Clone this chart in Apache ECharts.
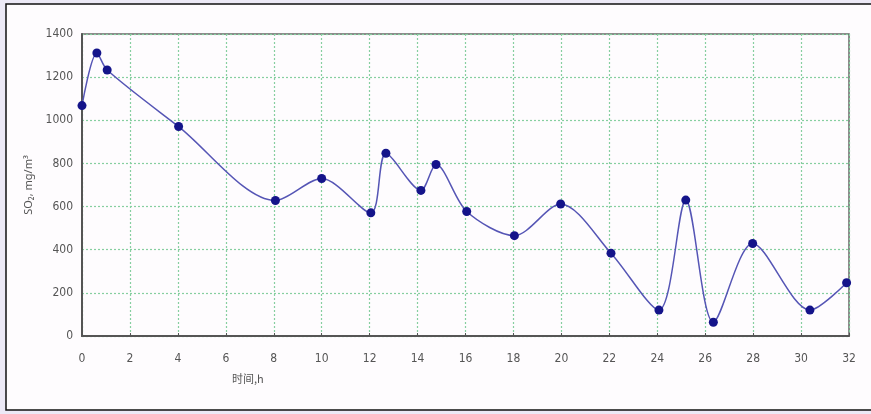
<!DOCTYPE html>
<html>
<head>
<meta charset="utf-8">
<script src="https://cdn.jsdelivr.net/npm/echarts@6/dist/echarts.min.js"></script>
<style>
html,body{margin:0;padding:0;background:#ece9f6;}
#c{width:871px;height:414px;}
</style>
</head>
<body>
<div id="c"></div>
<script>
const timeH = [0, 0.62, 1.05, 4.03, 8.07, 10.0, 12.05, 12.68, 14.14, 14.77, 16.05, 18.04, 19.97, 22.07, 24.07, 25.19, 26.34, 27.98, 30.37, 31.9];
const so2 = [1068, 1312, 1233, 971, 628, 730, 571, 847, 675, 795, 577, 465, 612, 384, 120, 630, 64, 429, 120, 247];
const xTicks = [0, 2, 4, 6, 8, 10, 12, 14, 16, 18, 20, 22, 24, 26, 28, 30, 32];
const yTicks = [0, 200, 400, 600, 800, 1000, 1200, 1400];

const fontFam = "'Liberation Sans Narrow','DejaVu Sans Condensed','Liberation Sans',sans-serif";
const chart = echarts.init(document.getElementById('c'));
const pts = timeH.map((t, i) => [t, so2[i]]);
chart.setOption({
  backgroundColor: '#ece9f6',
  animation: false,
  graphic: [
    {type: 'rect', z: -10, shape: {x: 6, y: 4, width: 880, height: 406},
     style: {fill: '#fefcfe', stroke: '#111', lineWidth: 1.5}},
    {type: 'text', left: 232, top: 373,
     style: {text: '时间,h', fill: '#555', font: '11px ' + "'Noto Sans CJK SC', sans-serif"}}
  ],
  grid: {left: 82, right: 22, top: 34, bottom: 78, show: true, borderColor: '#666', borderWidth: 1.5, backgroundColor: 'transparent'},
  xAxis: {
    type: 'value', min: xTicks[0], max: xTicks[xTicks.length - 1], interval: 2,
    axisLine: {lineStyle: {color: '#555', width: 2}},
    axisTick: {show: true, inside: true, length: 3, lineStyle: {color: '#555'}},
    axisLabel: {color: '#555', fontSize: 12, fontFamily: fontFam, margin: 17, formatter: v => String(v)},
    splitLine: {show: true, lineStyle: {color: '#86cfa0', type: [2, 2], width: 1.2}}
  },
  yAxis: {
    type: 'value', min: yTicks[0], max: yTicks[yTicks.length - 1], interval: 200,
    name: 'SO₂, mg/m³', nameLocation: 'middle', nameGap: 46,
    nameTextStyle: {color: '#555', fontSize: 11, fontFamily: "'Noto Sans', sans-serif"},
    axisLine: {show: true, lineStyle: {color: '#555', width: 2}},
    axisTick: {show: false},
    axisLabel: {color: '#555', fontSize: 12, fontFamily: fontFam, margin: 9, formatter: v => String(v)},
    splitLine: {show: true, lineStyle: {color: '#86cfa0', type: [2, 2], width: 1.2}}
  },
  series: [{
    type: 'line', data: pts, smooth: 0.3,
    symbol: 'circle', symbolSize: 9,
    itemStyle: {color: '#14148a'},
    lineStyle: {color: '#5555b5', width: 1.5}
  }]
});
</script>
</body>
</html>
